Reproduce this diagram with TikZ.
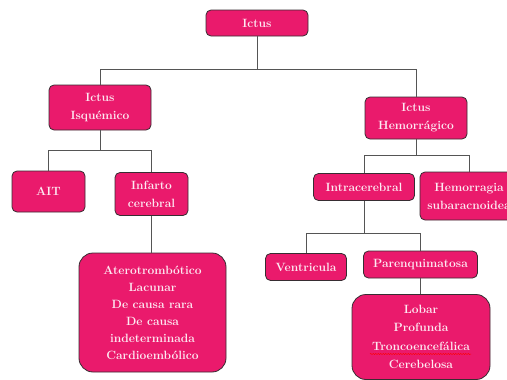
\documentclass[tikz,border=0pt]{standalone}
\usetikzlibrary{decorations.pathmorphing}
\definecolor{ictuspink}{RGB}{234,26,108}
\definecolor{textpink}{RGB}{253,234,242}
\definecolor{edgegray}{RGB}{55,45,50}
\definecolor{linegray}{RGB}{85,85,85}
\begin{document}
\begin{tikzpicture}[x=1pt,y=-1pt,
  box/.style={draw=edgegray, line width=0.8pt, fill=ictuspink, text=textpink,
    rounded corners=5pt, font=\fontsize{12}{18}\selectfont\bfseries,
    align=center, inner sep=0pt},
  bigbox/.style={box, rounded corners=14pt},
  link/.style={draw=linegray, line width=0.9pt}]
\useasboundingbox (0,0) rectangle (507,380);
\clip (0,0) rectangle (507,380);
\fill[white] (0,0) rectangle (507,380);

\node[box, minimum width=102, minimum height=26] (ictus) at (257,23) {Ictus};
\node[box, minimum width=102, minimum height=45] (isq) at (100,107.5) {Ictus\\Isquémico};
\node[box, minimum width=102, minimum height=42] (hem) at (416,118) {Ictus\\Hemorrágico};
\node[box, minimum width=73, minimum height=41] (ait) at (48.5,191.5) {AIT};
\node[box, minimum width=73, minimum height=43] (inf) at (151.5,194) {Infarto\\cerebral};
\node[bigbox, minimum width=147, minimum height=119, font=\fontsize{12}{17}\selectfont\bfseries] (ater) at (152.5,312.5)
  {Aterotrombótico\\Lacunar\\De causa rara\\De causa\\indeterminada\\Cardioembólico};
\node[box, minimum width=101, minimum height=27] (intra) at (364,187) {Intracerebral};
\node[box, minimum width=98, minimum height=48] (sub) at (469,196) {Hemorragia\\subaracnoidea};
\node[box, minimum width=81, minimum height=27] (vent) at (306,267) {Ventricula};
\node[box, minimum width=114, minimum height=27] (par) at (420.5,264.5) {Parenquimatosa};
\node[bigbox, minimum width=138, minimum height=85, font=\fontsize{12}{18.5}\selectfont\bfseries] (lob) at (421,337)
  {Lobar\\Profunda\\Troncoencefálica\\Cerebelosa};

\coordinate (b1) at (0,69);
\coordinate (b2) at (0,150);
\coordinate (b3) at (0,155);
\coordinate (b4) at (0,233);

\draw[link] (ictus.south) -- (ictus.south |- b1) -| (isq.north);
\draw[link] (ictus.south |- b1) -| (hem.north);
\draw[link] (isq.south) -- (isq.south |- b2) -| (ait.north);
\draw[link] (isq.south |- b2) -| (inf.north);
\draw[link] (inf.south) -- (inf.south |- ater.north);
\draw[link] (hem.south) -- (hem.south |- b3) -| (intra.north);
\draw[link] (hem.south |- b3) -| (sub.north);
\draw[link] (intra.south) -- (intra.south |- b4) -| (vent.north);
\draw[link] (intra.south |- b4) -| (par.north);
\draw[link] (par.south) -- (par.south |- lob.north);

\coordinate (w1) at (370,354);
\coordinate (w2) at (471,354);
\draw[red, line width=0.5pt, decorate, decoration={snake, amplitude=0.5pt, segment length=2.5pt}] (w1) -- (w2);
\end{tikzpicture}
\end{document}
